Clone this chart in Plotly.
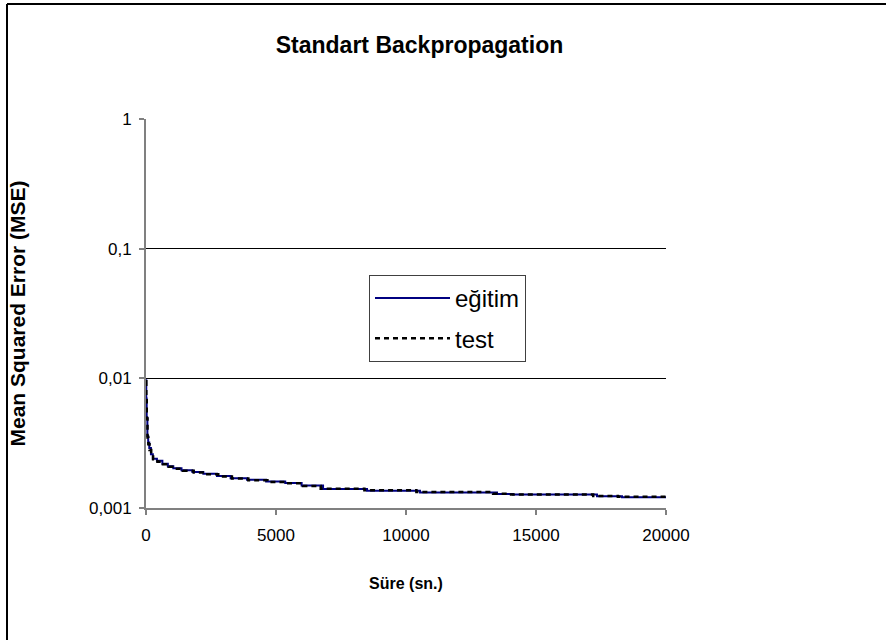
import plotly.graph_objects as go

# Data (time in seconds, MSE)
train_time = [0, 10, 26, 53, 84, 126, 190, 263, 420, 630, 840, 1050, 1365, 1785, 2205, 2730,
              3255, 3885, 4620, 5355, 5985, 6810, 8500, 10540, 13500, 14115, 17346, 18308, 20000]
train_mse = [0.0097, 0.0070, 0.0050, 0.0036, 0.0032, 0.0029, 0.0026, 0.0024, 0.00232, 0.00220,
             0.00210, 0.00203, 0.00196, 0.00190, 0.00184, 0.00177, 0.00170, 0.00165, 0.00160,
             0.00156, 0.00149, 0.00140, 0.00136, 0.00132, 0.00128, 0.00127, 0.00123, 0.00121,
             0.00120]

test_time = [0, 12, 29, 58, 89, 136, 200, 273, 440, 650, 870, 1100, 1415, 1835, 2255, 2780,
             3305, 3935, 4670, 5405, 6035, 6720, 8400, 10400, 13350, 13950, 17200, 18150, 20000]
test_mse = [0.0095, 0.0068, 0.0049, 0.0035, 0.0031, 0.0028, 0.0025, 0.00238, 0.00228, 0.00218,
            0.00208, 0.00201, 0.00194, 0.00188, 0.00182, 0.00175, 0.00169, 0.00164, 0.00159,
            0.00155, 0.00148, 0.00141, 0.00137, 0.00133, 0.00129, 0.00127, 0.00124, 0.00122,
            0.00121]

y_tickvals = [0.001, 0.01, 0.1, 1]
y_ticktext = ["0,001", "0,01", "0,1", "1"]
x_tickvals = [0, 5000, 10000, 15000, 20000]
x_ticktext = ["0", "5000", "10000", "15000", "20000"]

FONT = "Liberation Sans, Arial, sans-serif"
L, T = 146, 119   # plot area top-left in px
PW, PH = 520, 389  # plot area size in px

fig = go.Figure()
fig.add_trace(go.Scatter(x=train_time, y=train_mse, mode="lines", name="eğitim", legendgroup="a",
                         line=dict(color="#000080", width=2, shape="hv")))
fig.add_trace(go.Scatter(x=test_time, y=test_mse, mode="lines", name="test", legendgroup="b",
                         line=dict(color="#000000", width=2.5, dash="5px,4px", shape="hv")))

fig.update_layout(
    width=886, height=640,
    paper_bgcolor="white", plot_bgcolor="white",
    margin=dict(l=L, r=886 - L - PW, t=T, b=640 - T - PH),
    font=dict(family=FONT, color="black", size=17),
    title=dict(text="<b>Standart Backpropagation</b>", x=419.5 / 886, xanchor="center",
               y=1 - 45 / 640, yanchor="middle", font=dict(size=23, family=FONT)),
    showlegend=True,
    legend=dict(x=(369 - L) / PW, y=(T + PH - 275) / PH, xanchor="left", yanchor="top",
                bordercolor="#404040", borderwidth=1, bgcolor="white",
                font=dict(size=24, family=FONT), tracegroupgap=6, itemwidth=75),
    xaxis=dict(range=[0, 20000], tickvals=x_tickvals, ticktext=x_ticktext,
               showgrid=False, zeroline=False, automargin=False,
               showline=True, linecolor="#808080", linewidth=2,
               ticks="outside", ticklen=5, tickcolor="#808080", tickwidth=2,
               tickfont=dict(size=17), ticklabelstandoff=6,
               title=dict(text="<b>Süre (sn.)</b>", font=dict(size=16), standoff=33)),
    yaxis=dict(type="log", range=[-3, 0.003], tickvals=y_tickvals, ticktext=y_ticktext,
               showgrid=True, gridcolor="#000000", gridwidth=1, zeroline=False, automargin=False,
               showline=True, linecolor="#808080", linewidth=2,
               ticks="outside", ticklen=5, tickcolor="#808080", tickwidth=2,
               tickfont=dict(size=17), ticklabelstandoff=4,
               title=dict(text="<b>Mean Squared Error (MSE)</b>", font=dict(size=21), standoff=58)),
)

# outer chart frame (only left and top edges visible in the cropped original)
fig.add_shape(type="line", xref="paper", yref="paper", x0=(7 - L) / PW, x1=(7 - L) / PW,
              y0=-1, y1=(T + PH - 4) / PH, line=dict(color="#000000", width=2), layer="above")
fig.add_shape(type="line", xref="paper", yref="paper", x0=(7 - L) / PW, x1=3,
              y0=(T + PH - 4) / PH, y1=(T + PH - 4) / PH, line=dict(color="#000000", width=2),
              layer="above")

fig.write_html("out.html", config={"displayModeBar": False},
               post_script="document.body.style.margin='0';")
